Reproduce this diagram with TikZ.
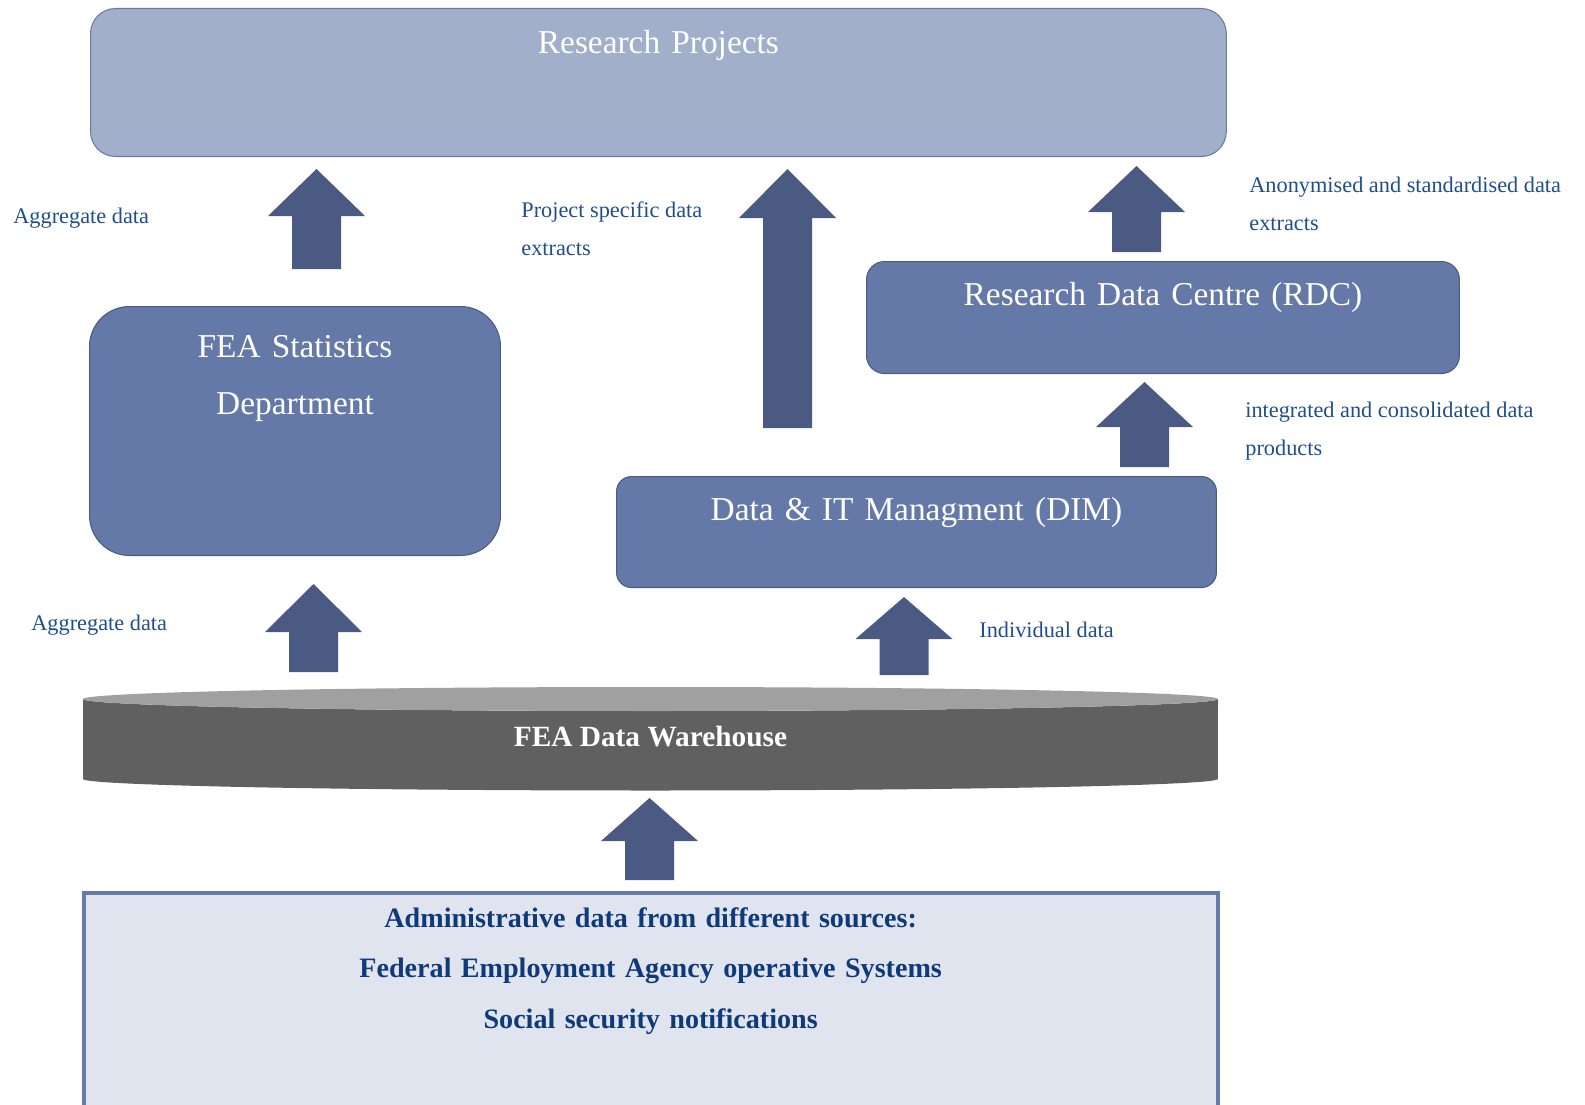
\documentclass[tikz,border=0pt]{standalone}
\usepackage{fontspec}
\setmainfont{Liberation Serif}
\usepackage{tikz}
\usetikzlibrary{positioning}
\definecolor{projFill}{HTML}{A2AFCA}
\definecolor{projLine}{HTML}{6A7AA3}
\definecolor{unitFill}{HTML}{6479A8}
\definecolor{unitLine}{HTML}{4A5A82}
\definecolor{flowBlue}{HTML}{4A5A82}
\definecolor{labelBlue}{HTML}{1F4E8C}
\definecolor{sourceText}{HTML}{0F3A7A}
\definecolor{sourceFill}{HTML}{E0E4EF}
\definecolor{sourceLine}{HTML}{6679A8}
\definecolor{dwTop}{HTML}{A0A0A0}
\definecolor{dwBody}{HTML}{606060}

\begin{document}
\begin{tikzpicture}[
  x=0.02cm, y=-0.02cm,
  unit/.style={
    draw=unitLine, fill=unitFill, line width=0.6pt, inner sep=0pt,
    align=center, text=white, font=\fontsize{19}{32.4}\selectfont,
    anchor=north west
  },
  flowlabel/.style={
    anchor=base west, inner sep=0pt, text=labelBlue, align=left,
    font=\fontsize{12.7}{21.5}\selectfont
  },
  flowarrow/.style={fill=flowBlue}
]
  \useasboundingbox (0,0) rectangle (1585,1105);

  % boxes
  \node[unit, draw=projLine, fill=projFill, rounded corners=0.5cm,
        text width=22.72cm, text height=0.9cm, text depth=2.06cm] (rp) at (90,8) {Research Projects};
  \node[unit, rounded corners=0.8cm,
        text width=8.22cm, text height=1.02cm, text depth=3.96cm] (stat) at (89,306) {FEA Statistics\\Department};
  \node[unit, rounded corners=0.36cm,
        text width=11.86cm, text height=0.88cm, text depth=1.36cm] (rdc) at (866,261) {Research Data Centre (RDC)};
  \node[unit, rounded corners=0.3cm,
        text width=12cm, text height=0.88cm, text depth=1.34cm] (dim) at (616,476) {Data \& IT Managment (DIM)};

  % data warehouse
  \fill[dwBody] (83,699) -- (83,779) arc[start angle=180, end angle=360, x radius=11.35cm, y radius=0.23cm]
    -- (1218,699) arc[start angle=360, end angle=180, x radius=11.35cm, y radius=0.24cm] -- cycle;
  \fill[dwTop] (650.5,699) ellipse[x radius=11.35cm, y radius=0.24cm];
  \node[anchor=base, text=white, font=\fontsize{16.7}{20}\selectfont\bfseries] (dw) at (650.5,746) {FEA Data Warehouse};

  % sources
  \node[anchor=north west, draw=sourceLine, fill=sourceFill, line width=2.3pt, inner sep=0pt,
        align=center, text=sourceText, font=\fontsize{16}{29}\selectfont\bfseries,
        text width=22.69cm, text height=0.68cm, text depth=3.92cm] (src) at (81.5,891)
        {Administrative data from different sources:\\Federal Employment Agency operative Systems\\Social security notifications};

  % flows
  \foreach \cx/\bot/\sh/\tip in {316.5/269/216/169, 787.5/428/218/169, 1136.5/252/212/166,
      1144.5/467/427/382, 313.5/672/632/584, 904/675/639/597, 649.5/880/841/798}
    \fill[flowarrow] (\cx-24.5,\bot) -- (\cx-24.5,\sh) -- (\cx-48.5,\sh) -- (\cx,\tip)
      -- (\cx+48.5,\sh) -- (\cx+24.5,\sh) -- (\cx+24.5,\bot) -- cycle;

  % labels (base = last line)
  \node[flowlabel] (lagg1) at (13,223) {Aggregate data};
  \node[flowlabel] (lproj) at (521,255) {Project specific data\\extracts};
  \node[flowlabel] (lanon) at (1249,230) {Anonymised and standardised data\\extracts};
  \node[flowlabel] (linteg) at (1245,455) {integrated and consolidated data\\products};
  \node[flowlabel] (lagg2) at (31,630) {Aggregate data};
  \node[flowlabel] (lind) at (979,637) {Individual data};
\end{tikzpicture}
\end{document}
